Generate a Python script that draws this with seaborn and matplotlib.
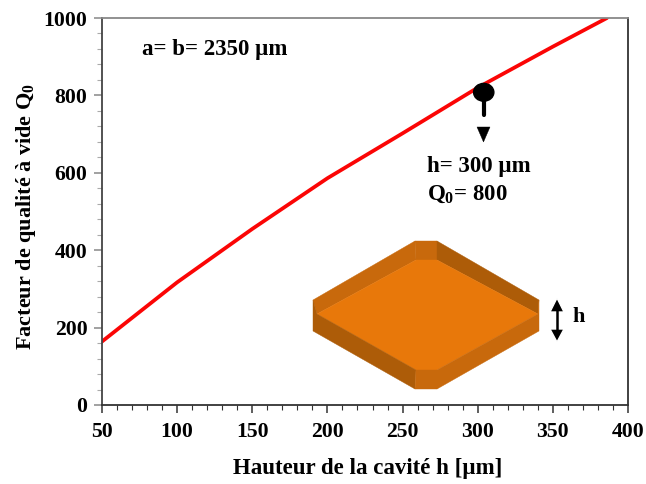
import matplotlib
matplotlib.use("Agg")
import matplotlib.pyplot as plt
import pandas as pd
import seaborn as sns
from matplotlib.patches import Polygon, Ellipse
from matplotlib.ticker import MultipleLocator

# values
hauteur = [50, 100, 150, 200, 250, 300, 350, 386]
facteur_q = [164, 317, 455, 586, 702, 820, 926, 1000]
point_h = [304]
point_q = [808]

W, H = 646, 484
df = pd.DataFrame({"h": hauteur, "Q": facteur_q})

sns.set_theme(style="ticks")
plt.rcParams["font.family"] = ["Liberation Serif", "DejaVu Serif"]
plt.rcParams["font.weight"] = "bold"
plt.rcParams["mathtext.fontset"] = "custom"
plt.rcParams["mathtext.rm"] = "Liberation Serif:bold"
plt.rcParams["mathtext.default"] = "rm"
plt.rcParams["text.color"] = "black"
plt.rcParams["axes.labelcolor"] = "black"
plt.rcParams["xtick.labelcolor"] = "black"
plt.rcParams["ytick.labelcolor"] = "black"

fig = plt.figure(figsize=(W / 100, H / 100), dpi=100)
ax = fig.add_axes([102 / W, 1 - 405 / H, (628 - 102) / W, (405 - 18) / H])

sns.lineplot(data=df, x="h", y="Q", color="#fb0505", lw=2.7, ax=ax)

ax.set_xlim(50, 400)
ax.set_ylim(0, 1000)
ax.xaxis.set_major_locator(MultipleLocator(50))
ax.xaxis.set_minor_locator(MultipleLocator(10))
ax.yaxis.set_major_locator(MultipleLocator(200))
ax.yaxis.set_minor_locator(MultipleLocator(40))
ax.tick_params(which="major", length=5.5, width=1.1, color="#333333", labelsize=15.7, pad=6.5)
ax.tick_params(which="minor", length=3.5, width=0.8, color="#aaaaaa")
ax.tick_params(axis="x", which="minor", color="#333333")
ax.tick_params(axis="y", which="major", color="#888888", pad=5)
ax.spines["top"].set_color("#888888")
ax.spines["right"].set_color("#333333")
ax.spines["left"].set_color("#444444")
ax.spines["bottom"].set_color("#333333")
for side in ax.spines:
    ax.spines[side].set_linewidth(1.3)
ax.set_xlabel("Hauteur de la cavité h [µm]", fontsize=16.5, fontweight="bold")
ax.xaxis.set_label_coords((367.5 - 102) / 526, -0.138)
ax.set_ylabel("Facteur de qualité à vide Q$_0$", fontsize=16, fontweight="bold")
ax.yaxis.set_label_coords(-0.122, (405 - 216) / 387)


def px(x, y):
    return (x / W, 1 - y / H)


# cavity drawing, in image pixels
faces = [
    ("#c8690c", [(313, 300), (415, 241), (416, 260), (317, 314)]),
    ("#c8690c", [(415, 241), (437, 241), (437, 260), (416, 260)]),
    ("#ad5c08", [(437, 241), (539, 300), (538, 314), (437, 260)]),
    ("#e8780a", [(416, 260), (437, 260), (538, 314), (437, 370), (416, 370), (317, 314)]),
    ("#ad5c08", [(313, 300), (317, 314), (416, 370), (415, 389), (313, 331)]),
    ("#c8690c", [(416, 370), (437, 370), (437, 389), (415, 389)]),
    ("#c8690c", [(437, 370), (538, 314), (539, 300), (539, 331), (437, 389)]),
]
for color, pts in faces:
    fig.add_artist(Polygon([px(*p) for p in pts], closed=True, facecolor=color,
                           edgecolor=color, lw=0.3, transform=fig.transFigure))

# marker on the curve and arrow below it
ax.add_patch(Ellipse((point_h[0], point_q[0]), 13.5, 46, color="black", zorder=5))
fig.add_artist(plt.Line2D([483.5 / W, 483.5 / W], [1 - 100 / H, 1 - 115 / H], color="black", lw=3))
fig.add_artist(Polygon([px(477, 127), px(490, 127), px(483.5, 142)], closed=True,
                       facecolor="black", edgecolor="black", lw=0.3, transform=fig.transFigure))

# h double arrow
fig.add_artist(plt.Line2D([557 / W, 557 / W], [1 - 305 / H, 1 - 335 / H], color="black", lw=1.8))
fig.add_artist(Polygon([px(550, 312), px(564, 312), px(557, 298)], closed=True,
                       facecolor="black", transform=fig.transFigure))
fig.add_artist(Polygon([px(550, 329), px(564, 329), px(557, 342)], closed=True,
                       facecolor="black", transform=fig.transFigure))

fig.text(572 / W, 1 - 317 / H, "h", fontsize=16, fontweight="bold", va="center")
fig.text(142 / W, 1 - 50 / H, "a= b= 2350 µm", fontsize=16.5, fontweight="bold", va="center")
fig.text(427 / W, 1 - 166 / H, "h= 300 µm", fontsize=16.5, fontweight="bold", va="center")
fig.text(427 / W, 1 - 194 / H, "Q$_0$= 800", fontsize=16.5, fontweight="bold", va="center")

fig.savefig("out.png", dpi=100)
